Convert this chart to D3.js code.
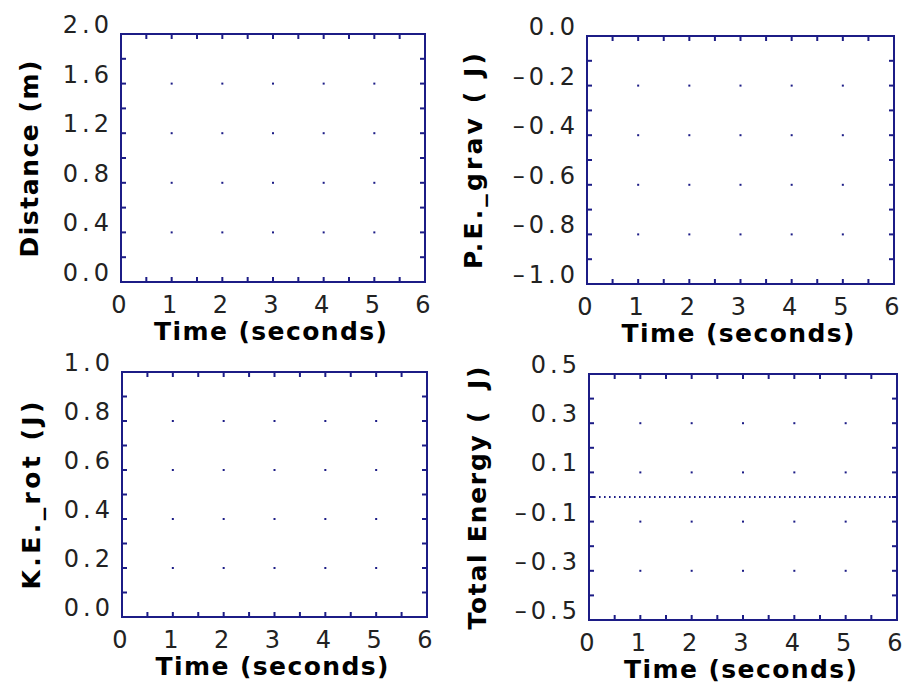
<!DOCTYPE html>
<html>
<head>
<meta charset="utf-8">
<script src="https://cdn.jsdelivr.net/npm/d3@7"></script>
<style>
  html, body { margin: 0; padding: 0; background: #fff; }
  svg { display: block; }
  .tick-label { font-family: "DejaVu Sans", sans-serif; font-size: 24px; fill: #222; }
  .axis-title { font-family: "DejaVu Sans", sans-serif; font-weight: bold; font-size: 25px; fill: #000; white-space: pre; }
</style>
</head>
<body>
<div id="chart"></div>
<script>
// 数据
const timeTicks = [0, 1, 2, 3, 4, 5, 6];
const distanceTicks = [0.0, 0.4, 0.8, 1.2, 1.6, 2.0];
const peTicks = [-1.0, -0.8, -0.6, -0.4, -0.2, 0.0];
const keTicks = [0.0, 0.2, 0.4, 0.6, 0.8, 1.0];
const totalTicks = [-0.5, -0.3, -0.1, 0.1, 0.3, 0.5];

const xTitle = "Time (seconds)";
const yTitles = ["Distance (m)", "P.E._grav ( J)", "K.E._rot (J)", "Total Energy (  J)"];

// 总能量曲线
const energyTime = [0, 1, 2, 3, 4, 5, 6];
const totalEnergy = [0, 0, 0, 0, 0, 0, 0];

// 布局（像素）
const panels = [
    { x0: 121, x1: 425, y0: 34, y1: 282, ticks: distanceTicks, title: yTitles[0], titleX: 38, titleLen: 197 },
    { x0: 587, x1: 894, y0: 36, y1: 284, ticks: peTicks, title: yTitles[1], titleX: 482, titleLen: 216 },
    { x0: 122, x1: 427, y0: 372, y1: 617, ticks: keTicks, title: yTitles[2], titleX: 40, titleLen: 188 },
    { x0: 589, x1: 897, y0: 374, y1: 620, ticks: totalTicks, title: yTitles[3], titleX: 486, titleLen: 263, series: true }
];

const navy = "#1c1c86";
const fmt = v => d3.format(".1f")(v).replace("−", "–");

const svg = d3.select("#chart")
    .append("svg")
    .attr("width", 903)
    .attr("height", 683);

panels.forEach(p => {
    const x = d3.scaleLinear().domain(d3.extent(timeTicks)).range([p.x0, p.x1]);
    const y = d3.scaleLinear().domain(d3.extent(p.ticks)).range([p.y1, p.y0]);
    const g = svg.append("g");

    // 次刻度 = 主刻度中点
    const xMinor = d3.pairs(timeTicks).map(([a, b]) => (a + b) / 2);
    const yMinor = d3.pairs(p.ticks).map(([a, b]) => (a + b) / 2);
    const xAll = timeTicks.concat(xMinor);
    const yAll = p.ticks.concat(yMinor);

    // 网格点
    const inner = arr => arr.slice(1, -1);
    inner(timeTicks).forEach(tx => {
        inner(p.ticks).forEach(ty => {
            g.append("rect")
                .attr("x", x(tx) - 1)
                .attr("y", y(ty) - 1)
                .attr("width", 2)
                .attr("height", 2)
                .attr("fill", navy);
        });
    });

    // 内向刻度（四边）
    const tl = 5;
    g.append("g").selectAll("line.xt")
        .data(xAll)
        .join("line")
        .attr("x1", d => x(d)).attr("x2", d => x(d))
        .attr("y1", p.y1).attr("y2", p.y1 - tl)
        .attr("stroke", navy).attr("stroke-width", 2);
    g.append("g").selectAll("line.xt2")
        .data(xAll)
        .join("line")
        .attr("x1", d => x(d)).attr("x2", d => x(d))
        .attr("y1", p.y0).attr("y2", p.y0 + tl)
        .attr("stroke", navy).attr("stroke-width", 2);
    g.append("g").selectAll("line.yt")
        .data(yAll)
        .join("line")
        .attr("x1", p.x0).attr("x2", p.x0 + tl)
        .attr("y1", d => y(d)).attr("y2", d => y(d))
        .attr("stroke", navy).attr("stroke-width", 2);
    g.append("g").selectAll("line.yt2")
        .data(yAll)
        .join("line")
        .attr("x1", p.x1).attr("x2", p.x1 - tl)
        .attr("y1", d => y(d)).attr("y2", d => y(d))
        .attr("stroke", navy).attr("stroke-width", 2);

    // 数据曲线
    if (p.series) {
        const pts = energyTime.map((t, i) => [t, totalEnergy[i]]);
        g.append("path")
            .datum(pts)
            .attr("d", d3.line().x(d => x(d[0])).y(d => y(d[1])))
            .attr("fill", "none")
            .attr("stroke", navy)
            .attr("stroke-width", 2)
            .attr("stroke-dasharray", "1.6,3.4");
    }

    // 边框
    g.append("rect")
        .attr("x", p.x0).attr("y", p.y0)
        .attr("width", p.x1 - p.x0).attr("height", p.y1 - p.y0)
        .attr("fill", "none")
        .attr("stroke", navy)
        .attr("stroke-width", 2);

    // y 轴标签
    g.append("g").selectAll("text")
        .data(p.ticks)
        .join("text")
        .attr("class", "tick-label")
        .attr("x", p.x0 - 8)
        .attr("y", d => y(d) - 1)
        .attr("text-anchor", "end")
        .attr("letter-spacing", 4)
        .text(fmt);

    // x 轴标签
    g.append("g").selectAll("text")
        .data(timeTicks)
        .join("text")
        .attr("class", "tick-label")
        .attr("x", d => x(d) - 2)
        .attr("y", p.y1 + 31)
        .attr("text-anchor", "middle")
        .text(d => d);

    // 轴标题
    g.append("text")
        .attr("class", "axis-title")
        .attr("x", (p.x0 + p.x1) / 2 - 2.5)
        .attr("y", p.y1 + 58)
        .attr("text-anchor", "middle")
        .attr("textLength", 233)
        .attr("lengthAdjust", "spacing")
        .text(xTitle);

    g.append("text")
        .attr("class", "axis-title")
        .attr("transform", `translate(${p.titleX},${(p.y0 + p.y1) / 2 + 1}) rotate(-90)`)
        .attr("text-anchor", "middle")
        .attr("textLength", p.titleLen)
        .attr("lengthAdjust", "spacing")
        .text(p.title);
});
</script>
</body>
</html>
